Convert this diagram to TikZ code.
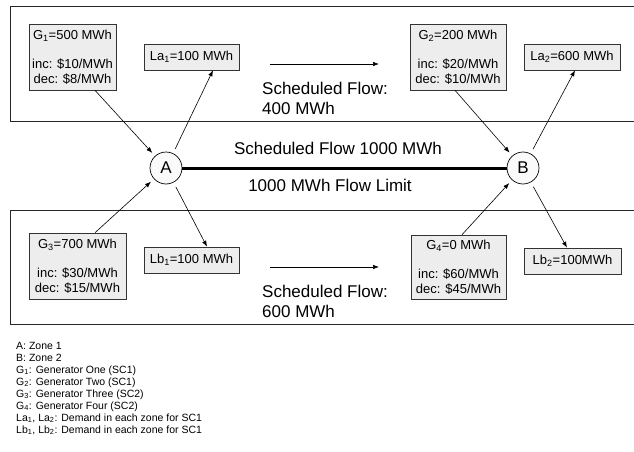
\documentclass[tikz,border=0pt]{standalone}
\usepackage{fontspec}
\setmainfont{Liberation Sans}
\usetikzlibrary{arrows.meta,calc}
\newcommand{\sbs}[1]{\textsubscript{#1}}
\tikzset{
  zone/.style={line width=0.8pt, draw=black!85},
  gbox/.style={draw=black!80, line width=0.6pt, fill=gray!14, inner sep=0pt, align=center,
    font=\fontsize{13}{15}\selectfont},
  lbox/.style={draw=black!80, line width=0.6pt, fill=gray!14, inner sep=0pt, align=center,
    font=\fontsize{13}{15}\selectfont, minimum height=26pt},
  zonenode/.style={circle, draw, line width=0.7pt, fill=gray!4, minimum size=32pt, inner sep=0pt,
    font=\fontsize{17}{19}\selectfont},
  arr/.style={-{Latex[length=6pt,width=4.5pt]}, line width=0.6pt},
  big/.style={font=\fontsize{17}{19}\selectfont, inner sep=0pt},
  legend/.style={font=\fontsize{10.5}{12}\selectfont, inner sep=0pt, anchor=base west},
}
\begin{document}
\begin{tikzpicture}[x=1pt,y=-1pt]
\useasboundingbox (0,0) rectangle (634,452);
% zones
\draw[zone] (640,6) -| (10,121) -- (640,121);
\draw[zone] (640,210) -| (10,324) -- (640,324);
% boxes
\node[gbox, minimum width=87pt, minimum height=66pt] (G1) at (72.5,57)
  {G\sbs{1}=500 MWh\\[14pt]inc: \$10/MWh\\dec: \$8/MWh};
\node[lbox, minimum width=95pt] (La1) at (191.5,57) {La\sbs{1}=100 MWh};
\node[gbox, minimum width=96pt, minimum height=66pt] (G2) at (458,57)
  {G\sbs{2}=200 MWh\\[14pt]inc: \$20/MWh\\dec: \$10/MWh};
\node[lbox, minimum width=96pt] (La2) at (572,57) {La\sbs{2}=600 MWh};
\node[gbox, minimum width=97pt, minimum height=66pt] (G3) at (77.5,266)
  {G\sbs{3}=700 MWh\\[14pt]inc: \$30/MWh\\dec: \$15/MWh};
\node[lbox, minimum width=95pt] (Lb1) at (191.5,260) {Lb\sbs{1}=100 MWh};
\node[gbox, minimum width=95pt, minimum height=64pt] (G4) at (458.5,267)
  {G\sbs{4}=0 MWh\\[14pt]inc: \$60/MWh\\dec: \$45/MWh};
\node[lbox, minimum width=97pt] (Lb2) at (572.5,261) {Lb\sbs{2}=100MWh};
% zone circles
\node[zonenode] (A) at (166,168) {A};
\node[zonenode] (B) at (523,168) {B};
% tie line
\draw[line width=3pt] (A) -- (B);
\node[big, anchor=base] (sf) at (338,154) {Scheduled Flow 1000 MWh};
\node[big, anchor=base] (fl) at (330,191) {1000 MWh Flow Limit};
% arrows zone A
\draw[arr, shorten >=4pt] ([xshift=22.5pt]G1.south) -- (A);
\draw[arr, shorten <=5pt] (A) -- ([xshift=21.5pt]La1.south);
\draw[arr, shorten >=4pt] ([xshift=17.5pt]G3.north) -- (A);
\draw[arr, shorten <=5pt] (A) -- ([xshift=15.5pt]Lb1.north);
% arrows zone B
\draw[arr, shorten >=4pt] ([xshift=-3pt]G2.south) -- (B);
\draw[arr, shorten <=5pt] (B) -- ([xshift=3pt]La2.south);
\draw[arr, shorten >=4pt] ([xshift=3.5pt]G4.north) -- (B);
\draw[arr, shorten <=5pt] (B) -- ([xshift=-5.5pt]Lb2.north);
% scheduled flows
\coordinate (f1s) at (270,64);
\coordinate (f1e) at (379,64);
\draw[arr] (f1s) -- (f1e);
\node[big, anchor=base west] (t1a) at (262,94) {Scheduled Flow:};
\node[big, anchor=base west] (t1b) at (262,114) {400 MWh};
\coordinate (f2s) at (270,267);
\coordinate (f2e) at (379,267);
\draw[arr] (f2s) -- (f2e);
\node[big, anchor=base west] (t2a) at (262,297) {Scheduled Flow:};
\node[big, anchor=base west] (t2b) at (262,317) {600 MWh};
% legend
\node[legend] (l1) at (16,349) {A: Zone 1};
\node[legend] (l2) at (16,361) {B: Zone 2};
\node[legend] (l3) at (16,373) {G\sbs{1}: Generator One (SC1)};
\node[legend] (l4) at (16,385) {G\sbs{2}: Generator Two (SC1)};
\node[legend] (l5) at (16,397) {G\sbs{3}: Generator Three (SC2)};
\node[legend] (l6) at (16,409) {G\sbs{4}: Generator Four (SC2)};
\node[legend] (l7) at (16,421) {La\sbs{1}, La\sbs{2}: Demand in each zone for SC1};
\node[legend] (l8) at (16,433) {Lb\sbs{1}, Lb\sbs{2}: Demand in each zone for SC1};
\end{tikzpicture}
\end{document}
